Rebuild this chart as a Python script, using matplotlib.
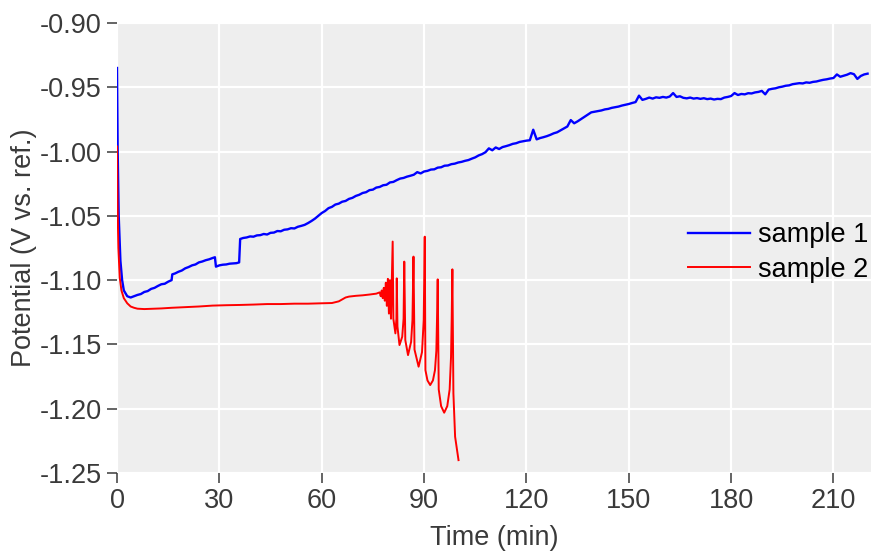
#!/usr/bin/env python

import numpy as np
import matplotlib
matplotlib.use('Agg')
import matplotlib.pyplot as plt
from matplotlib.ticker import FormatStrFormatter

plt.rcParams['font.family'] = ['Liberation Sans', 'DejaVu Sans']

# sample 1: fast drop, then slow rise (times in min, potential in V)
t_s1_early = [0, 0.2, 0.5, 1, 1.5, 2, 3, 4, 5, 6, 7, 8, 9, 10, 11, 12, 13,
              14, 15, 16, 16.2, 17, 18, 19, 20, 21, 22, 23, 24, 25, 26, 27,
              28, 28.7, 29.0, 30, 31, 32, 33, 34, 35, 35.8, 36.1]
v_s1_early = [-0.935, -1.000, -1.050, -1.085, -1.100, -1.108, -1.1125,
              -1.1135, -1.1125, -1.1115, -1.1108, -1.1092, -1.1085, -1.1068,
              -1.1060, -1.1045, -1.1032, -1.1028, -1.1012, -1.1000, -1.0955,
              -1.0948, -1.0935, -1.0925, -1.0908, -1.0898, -1.0885, -1.0878,
              -1.0862, -1.0855, -1.0845, -1.0838, -1.0828, -1.0822, -1.0895,
              -1.0885, -1.0880, -1.0878, -1.0872, -1.0870, -1.0868, -1.0862,
              -1.0680]

# one reading per minute from 37 to 220 min
t_s1_late = np.arange(37, 221)
v_s1_late = [
    -1.0672, -1.0668, -1.0660, -1.0662, -1.0652, -1.0650, -1.0641, -1.0645,
    -1.0632, -1.0630, -1.0618, -1.0620, -1.0608, -1.0605, -1.0596, -1.0598,
    -1.0585, -1.0578, -1.0570, -1.0556, -1.0540, -1.0522, -1.0500, -1.0478,
    -1.0462, -1.0440, -1.0430, -1.0412, -1.0405, -1.0390, -1.0384, -1.0368,
    -1.0360, -1.0345, -1.0336, -1.0322, -1.0316, -1.0300, -1.0296, -1.0280,
    -1.0275, -1.0262, -1.0258, -1.0240, -1.0236, -1.0222, -1.0210, -1.0205,
    -1.0195, -1.0188, -1.0180, -1.0160, -1.0170, -1.0155, -1.0150, -1.0140,
    -1.0138, -1.0125, -1.0122, -1.0110, -1.0108, -1.0098, -1.0094, -1.0085,
    -1.0080, -1.0072, -1.0066, -1.0055, -1.0045, -1.0030, -1.0020, -1.0005,
    -0.9975, -0.9990, -0.9968, -0.9980, -0.9965, -0.9958, -0.9950, -0.9940,
    -0.9935, -0.9925, -0.9920, -0.9915, -0.9912, -0.9830, -0.9905, -0.9895,
    -0.9888, -0.9880, -0.9870, -0.9858, -0.9850, -0.9835, -0.9820, -0.9805,
    -0.9755, -0.9780, -0.9765, -0.9748, -0.9730, -0.9712, -0.9695, -0.9690,
    -0.9685, -0.9680, -0.9672, -0.9668, -0.9660, -0.9655, -0.9650, -0.9642,
    -0.9636, -0.9630, -0.9622, -0.9615, -0.9565, -0.9598, -0.9590, -0.9580,
    -0.9588, -0.9578, -0.9582, -0.9575, -0.9580, -0.9572, -0.9545, -0.9575,
    -0.9570, -0.9582, -0.9586, -0.9580, -0.9588, -0.9584, -0.9590, -0.9585,
    -0.9592, -0.9588, -0.9595, -0.9590, -0.9592, -0.9580, -0.9575, -0.9568,
    -0.9545, -0.9560, -0.9552, -0.9555, -0.9546, -0.9548, -0.9540, -0.9536,
    -0.9528, -0.9555, -0.9518, -0.9512, -0.9508, -0.9500, -0.9495, -0.9488,
    -0.9485, -0.9476, -0.9472, -0.9468, -0.9470, -0.9462, -0.9465, -0.9458,
    -0.9455, -0.9448, -0.9442, -0.9438, -0.9432, -0.9428, -0.9400, -0.9418,
    -0.9410, -0.9402, -0.9390, -0.9398, -0.9435, -0.9412, -0.9400, -0.9394]

t_s1 = np.concatenate([t_s1_early, t_s1_late])
v_s1 = np.concatenate([v_s1_early, v_s1_late])

# sample 2: flat, then oscillations and spikes before failure
t_s2 = [0, 0.15, 0.4, 0.8, 1.3, 2, 3, 4, 5, 6, 8, 10, 13, 16, 20, 24, 28, 32,
        36, 40, 44, 48, 52, 56, 60, 63, 65, 66, 67, 68, 70, 72, 74, 76, 77,
        77.3, 77.6, 77.9, 78.2, 78.5, 78.8, 79.1, 79.4, 79.7, 80.0, 80.3,
        80.8, 81.0, 81.6, 81.9,
        82.0, 82.2, 82.8, 83.6, 84.0,
        84.2, 84.5, 85.3, 86.2, 86.6,
        86.9, 87.2, 88.4, 89.4, 89.9,
        90.2, 90.4, 91.0, 91.8, 92.6, 93.2, 93.6, 93.8,
        94.0, 94.3, 95.0, 95.9, 96.8, 97.5, 97.9, 98.1,
        98.3, 98.6, 99.1, 100.1]
v_s2 = [-0.996, -1.040, -1.075, -1.098, -1.108, -1.114, -1.118, -1.1205,
        -1.1215, -1.1222, -1.1225, -1.1223, -1.1220, -1.1215, -1.1210,
        -1.1205, -1.1198, -1.1195, -1.1193, -1.1190, -1.1186, -1.1186,
        -1.1183, -1.1183, -1.1180, -1.1178, -1.1165, -1.1150, -1.1135,
        -1.1128, -1.1122, -1.1118, -1.1112, -1.1105, -1.1095,
        -1.1125, -1.1080, -1.1140, -1.1060, -1.1160, -1.1020, -1.1200,
        -1.0990, -1.1260, -1.1000, -1.1300,
        -1.0700, -1.1300, -1.1414, -1.1300,
        -1.0986, -1.1360, -1.1505, -1.1440, -1.1300,
        -1.0856, -1.1466, -1.1583, -1.1480, -1.1310,
        -1.0817, -1.1540, -1.1673, -1.1560, -1.1310,
        -1.0662, -1.1700, -1.1780, -1.1816, -1.1780, -1.1700, -1.1550, -1.1300,
        -1.0994, -1.1850, -1.1980, -1.2031, -1.1980, -1.1850, -1.1600, -1.1300,
        -1.0916, -1.1880, -1.2218, -1.2400]

x_ticks = [0, 30, 60, 90, 120, 150, 180, 210]
y_ticks = [-1.25, -1.20, -1.15, -1.10, -1.05, -1.00, -0.95, -0.90]

text_col = '#3a3a3a'
fs = 19.5

fig = plt.figure(figsize=(8.71, 5.55), dpi=100)
ax = fig.add_axes([117 / 871, 1 - 473 / 555, 754 / 871, 450 / 555])
ax.set_facecolor('#eeeeee')

ax.plot(t_s1, v_s1, color='#0000ff', lw=1.7, label='sample 1')
ax.plot(t_s2, v_s2, color='#ff0000', lw=1.4, label='sample 2')

ax.set_xlim(0, 221)
ax.set_ylim(-1.25, -0.90)
ax.set_xticks(x_ticks)
ax.set_yticks(y_ticks)
ax.yaxis.set_major_formatter(FormatStrFormatter('%.2f'))

ax.grid(True, color='white', lw=1.6)
ax.set_axisbelow(True)
for s in ax.spines.values():
    s.set_visible(False)

ax.tick_params(axis='both', labelsize=fs, colors=text_col, length=7,
               width=1.1, pad=4)
ax.set_xlabel('Time (min)', fontsize=fs, color=text_col, labelpad=8)
ax.set_ylabel('Potential (V vs. ref.)', fontsize=fs, color=text_col,
              labelpad=2)

leg = ax.legend(loc='center right', bbox_to_anchor=(1.0, 0.49),
                frameon=False, fontsize=fs, handlelength=2.3,
                handletextpad=0.3, labelspacing=0.3, borderaxespad=0.0,
                borderpad=0.1)

fig.savefig('out.png', dpi=100)
